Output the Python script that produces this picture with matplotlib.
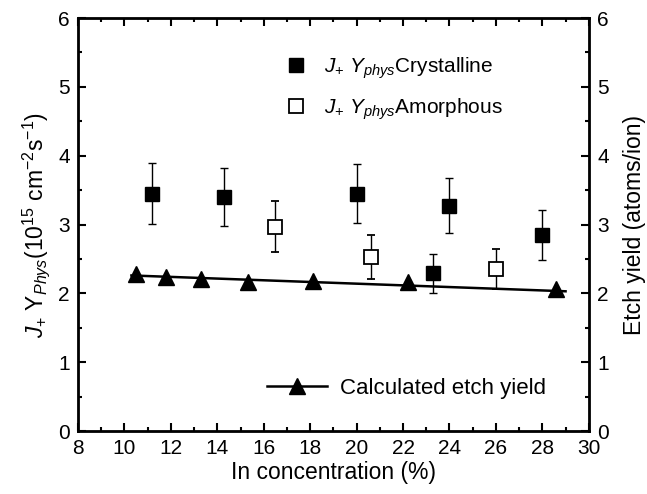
from matplotlib import pyplot as plt
from matplotlib.ticker import MultipleLocator
from matplotlib.lines import Line2D

plt.rcParams['font.family'] = ['Liberation Sans', 'DejaVu Sans']
plt.rcParams['mathtext.fontset'] = 'custom'
plt.rcParams['mathtext.rm'] = 'Liberation Sans'
plt.rcParams['mathtext.it'] = 'Liberation Sans:italic'
plt.rcParams['mathtext.bf'] = 'Liberation Sans:bold'

# crystalline samples
cryst_x = [11.2, 14.3, 20.0, 23.3, 24.0, 28.0]
cryst_y = [3.45, 3.40, 3.45, 2.29, 3.27, 2.85]
cryst_err = [0.44, 0.42, 0.43, 0.28, 0.40, 0.36]

# amorphous samples
amor_x = [16.5, 20.6, 26.0]
amor_y = [2.97, 2.53, 2.35]
amor_err = [0.37, 0.32, 0.29]

# calculated etch yield
calc_x = [10.5, 11.8, 13.3, 15.3, 18.1, 22.2, 28.6]
calc_y = [2.28, 2.24, 2.21, 2.16, 2.18, 2.16, 2.06]
fit_x = [10.3, 29.0]
fit_y = [2.26, 2.03]

fig = plt.figure(figsize=(6.47, 4.94), dpi=100)
ax = fig.add_axes([0.1206, 0.1275, 0.7894, 0.836])

ax.plot(fit_x, fit_y, color='black', lw=1.8)
ax.plot(calc_x, calc_y, ls='none', marker='^', ms=11, color='black')
ax.errorbar(cryst_x, cryst_y, yerr=cryst_err, fmt='s', ms=10, color='black',
            ecolor='black', elinewidth=1, capsize=3)
ax.errorbar(amor_x, amor_y, yerr=amor_err, fmt='s', ms=10, mfc='white',
            mec='black', mew=1.3, ecolor='black', elinewidth=1, capsize=3)

ax.set_xlim(8, 30)
ax.set_ylim(0, 6)
ax.xaxis.set_major_locator(MultipleLocator(2))
ax.xaxis.set_minor_locator(MultipleLocator(1))
ax.yaxis.set_major_locator(MultipleLocator(1))
ax.yaxis.set_minor_locator(MultipleLocator(0.5))
ax.tick_params(which='both', direction='in', top=True, labelsize=15, width=1.5)
ax.tick_params(which='major', length=6, pad=6)
ax.tick_params(which='minor', length=3)
for s in ax.spines.values():
    s.set_linewidth(2)

ax2 = ax.twinx()
ax2.set_ylim(0, 6)
ax2.yaxis.set_major_locator(MultipleLocator(1))
ax2.yaxis.set_minor_locator(MultipleLocator(0.5))
ax2.tick_params(which='both', direction='in', labelsize=15, width=1.5)
ax2.tick_params(which='major', length=6, pad=6)
ax2.tick_params(which='minor', length=3)

ax.set_xlabel('In concentration (%)', fontsize=16.5, labelpad=2)
ax.set_ylabel(r'$J_{+}\ \mathrm{Y}_{Phys}$(10$^{15}$ cm$^{-2}$s$^{-1}$)', fontsize=16.5,
              labelpad=4)
ax2.set_ylabel('Etch yield (atoms/ion)', fontsize=16.5, labelpad=10)

h1 = Line2D([], [], ls='none', marker='s', ms=10, color='black')
h2 = Line2D([], [], ls='none', marker='s', ms=10, mfc='white', mec='black', mew=1.3)
leg = ax.legend([h1, h2], [r'$J_{+}\ Y_{phys}$Crystalline', r'$J_{+}\ Y_{phys}$Amorphous'],
                loc='upper left', bbox_to_anchor=(0.36, 0.955), frameon=False,
                fontsize=15, handletextpad=0.6, labelspacing=0.75, handlelength=1.5)
ax.add_artist(leg)
h3 = Line2D([], [], color='black', lw=1.8, marker='^', ms=11)
ax.legend([h3], ['Calculated etch yield'], loc='lower left',
          bbox_to_anchor=(0.33, 0.03), frameon=False, fontsize=16,
          handlelength=2.7, handletextpad=0.6)

fig.savefig('out.png', dpi=100)
